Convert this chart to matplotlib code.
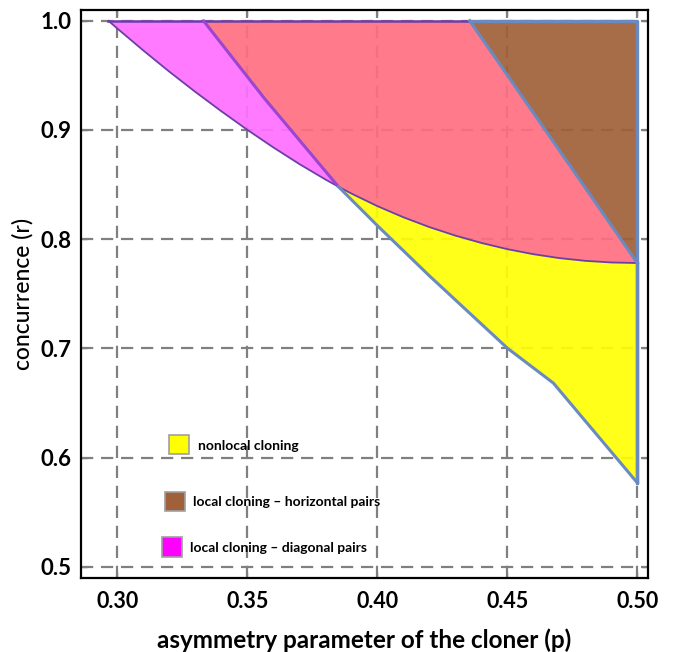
import matplotlib
matplotlib.use("Agg")
import matplotlib.pyplot as plt
from matplotlib.patches import Polygon, Rectangle

plt.rcParams['font.family'] = ['Lato', 'DejaVu Sans']

# ---- data ----
# lower boundary of the local-cloning regions (purple curve)
curve_p = [0.2965, 0.30, 0.31, 0.32, 0.33, 0.34, 0.35, 0.36, 0.37, 0.38, 0.385,
           0.39, 0.40, 0.41, 0.42, 0.43, 0.44, 0.45, 0.46, 0.47, 0.48, 0.49, 0.50]
curve_r = [1.000, 0.9928, 0.9727, 0.9533, 0.9348, 0.9171, 0.9001, 0.8840, 0.8688,
           0.8547, 0.8481, 0.8418, 0.8303, 0.8201, 0.8111, 0.8033, 0.7966, 0.7909,
           0.7863, 0.7827, 0.7802, 0.7787, 0.7782]
split_index = 10  # intersection point (0.385, 0.848)

# boundary between diagonal-pair and the pink region
diag_p = [0.3331, 0.3565, 0.385]
diag_r = [1.000, 0.929, 0.8481]

# boundary of horizontal-pair (brown) region
horiz_p = [0.4355, 0.50]
horiz_r = [1.000, 0.7782]

# lower boundary of nonlocal cloning (yellow) region
nonloc_p = [0.385, 0.4004, 0.42, 0.45, 0.4677, 0.50]
nonloc_r = [0.8481, 0.8115, 0.7665, 0.7003, 0.6683, 0.577]

x_ticks = [0.30, 0.35, 0.40, 0.45, 0.50]
x_tick_labels = ['0.30', '0.35', '0.40', '0.45', '0.50']
y_ticks = [0.5, 0.6, 0.7, 0.8, 0.9, 1.0]
y_tick_labels = ['0.5', '0.6', '0.7', '0.8', '0.9', '1.0']

legend_labels = ['nonlocal cloning', 'local cloning \u2013 horizontal pairs',
                 'local cloning \u2013 diagonal pairs']

# ---- styles ----
A = 0.92
c_magenta = '#FF6FFF'
c_pink = '#FF6F80'
c_brown = '#A05F38'
c_yellow = '#FFFF06'
c_blue = '#6A8AC0'
c_purple = '#6A3FA8'
c_violet = '#9B45D2'

fig = plt.figure(figsize=(6.73, 6.52), dpi=100)
ax = fig.add_axes([81/673, 1-578/652, (648-81)/673, (578-10)/652])
ax.set_xlim(0.2860, 0.5041)
ax.set_ylim(0.4899, 1.0098)

# grid under fills
for xv in x_ticks:
    ax.axvline(xv, color='#808080', lw=1.6, ls=(0, (5.5, 3.5)), zorder=1)
for yv in y_ticks:
    ax.axhline(yv, color='#808080', lw=1.6, ls=(0, (5.5, 3.5)), zorder=1)

cp_left = list(zip(curve_p[:split_index+1], curve_r[:split_index+1]))
cp_right = list(zip(curve_p[split_index:], curve_r[split_index:]))
diag = list(zip(diag_p, diag_r))
nonloc = list(zip(nonloc_p, nonloc_r))

# magenta: diagonal pairs
mag_poly = [(curve_p[0], 1.0), (diag_p[0], 1.0)] + diag[1:] + cp_left[::-1][1:]
ax.add_patch(Polygon(mag_poly, closed=True, facecolor=c_magenta, alpha=A,
                     edgecolor='none', zorder=2))
# pink region
pink_poly = [(diag_p[0], 1.0), (horiz_p[0], horiz_r[0]), (horiz_p[1], horiz_r[1])] \
    + cp_right[::-1][1:] + diag[::-1][1:]
ax.add_patch(Polygon(pink_poly, closed=True, facecolor=c_pink, alpha=A,
                     edgecolor='none', zorder=2))
# brown: horizontal pairs
brown_poly = [(horiz_p[0], 1.0), (0.5, 1.0), (horiz_p[1], horiz_r[1])]
ax.add_patch(Polygon(brown_poly, closed=True, facecolor=c_brown, alpha=A,
                     edgecolor='none', zorder=2))
# yellow: nonlocal
yel_poly = cp_right + [(0.5, nonloc_r[-1])] + nonloc[::-1][1:]
ax.add_patch(Polygon(yel_poly, closed=True, facecolor=c_yellow, alpha=A,
                     edgecolor='none', zorder=2))

# outlines
ax.plot(curve_p, curve_r, color=c_purple, lw=1.3, zorder=4, solid_capstyle='round')
ax.plot([curve_p[0], horiz_p[0]], [1.0, 1.0], color=c_purple, lw=1.8, zorder=4)
ax.plot(diag_p, diag_r, color=c_violet, lw=2.2, zorder=4, solid_capstyle='round')
ax.plot(nonloc_p, nonloc_r, color=c_blue, lw=2.2, zorder=4, solid_joinstyle='round')
ax.plot([horiz_p[0], 0.5, 0.5, horiz_p[1]], [1.0, 1.0, nonloc_r[-1], horiz_r[1]],
        color=c_blue, lw=2.4, zorder=4)
ax.plot(horiz_p, horiz_r, color=c_blue, lw=2.2, zorder=4)

# ticks & labels
ax.set_xticks(x_ticks)
ax.set_xticklabels(x_tick_labels, fontsize=15.5, fontweight='bold')
ax.set_yticks(y_ticks)
ax.set_yticklabels(y_tick_labels, fontsize=16, fontweight='bold')
ax.tick_params(direction='in', length=4, width=1, color='#808080',
               top=True, right=True)
ax.tick_params(axis='x', pad=9)
ax.tick_params(axis='y', pad=7)
for s in ax.spines.values():
    s.set_linewidth(1.6)
    s.set_color('black')
    s.set_zorder(6)
ax.set_xlabel('asymmetry parameter of the cloner (p)', fontsize=17.5,
              fontweight='bold', labelpad=12)
ax.set_ylabel('concurrence (r)', fontsize=16.5, fontweight='medium', labelpad=5)

# legend (manual)
leg_colors = ['#FFFF00', '#A0603A', '#FF00FF']
leg_boxes = [(169, 435, 20, 19), (164.5, 492, 20.5, 19), (161.5, 537, 20, 19.5)]
leg_text_x = [198, 193, 190]
leg_text_y = [446, 502, 548]
for col, (bx, by, bw, bh), lbl, tx, ty in zip(leg_colors, leg_boxes, legend_labels,
                                             leg_text_x, leg_text_y):
    ax.add_patch(Rectangle(((bx-81)/567, (578-by-bh)/568), bw/567, bh/568,
                           transform=ax.transAxes, facecolor=col,
                           edgecolor='#A0A0A0', lw=1.2, zorder=5))
    ax.text((tx-81)/567, (578-ty)/568, lbl, transform=ax.transAxes,
            fontsize=10, fontweight='bold', va='center', ha='left', zorder=5)

fig.savefig('out.png', dpi=100)
